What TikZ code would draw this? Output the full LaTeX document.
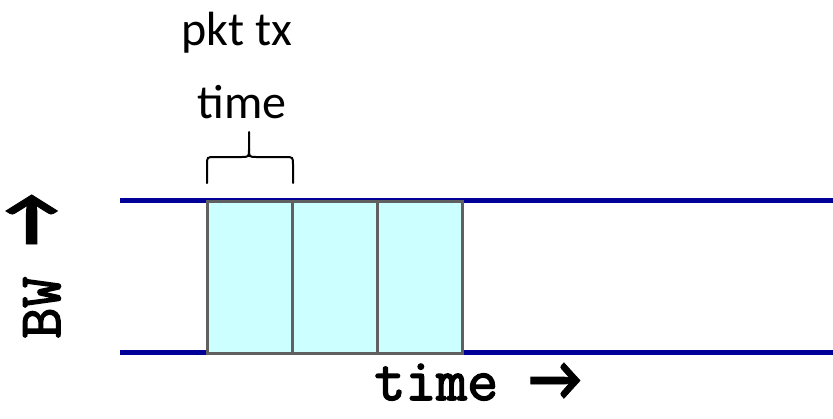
\documentclass[tikz,border=0pt]{standalone}
\usepackage{fontspec}
\setmainfont{Carlito}
\newfontfamily\axisfont[FakeBold=2.5]{Latin Modern Mono}
\newfontfamily\arrowfont[FakeBold=1.2]{Carlito}
\usetikzlibrary{positioning}
\definecolor{bwline}{RGB}{0,0,153}
\definecolor{pktfill}{RGB}{204,255,255}
\definecolor{pktedge}{RGB}{96,96,96}
\newcommand{\axisarrow}[1]{{\arrowfont\bfseries\fontsize{29}{30}\selectfont\scalebox{1}[#1]{→}}}
\tikzset{
	pktbox/.style={draw=pktedge, fill=pktfill, line width=1.5pt, minimum width=42.5pt, minimum height=76pt, inner sep=0pt, outer sep=0pt},
	bwedge/.style={draw=bwline, line width=2.5pt},
	bracepath/.style={draw=black, line width=1pt, line cap=round},
	axislabel/.style={font=\axisfont\fontsize{30}{32}\selectfont, inner sep=0pt},
	toplabel/.style={font=\fontsize{24}{28}\selectfont, inner sep=0pt}
}
\begin{document}
\begin{tikzpicture}[x=0.5pt, y=-0.5pt]
	\useasboundingbox (0,0) rectangle (833,418);

	% channel edges
	\coordinate (topL) at (120,200);
	\coordinate (topR) at (833,200);
	\coordinate (botL) at (120,352);
	\coordinate (botR) at (833,352);
	\draw[bwedge] (topL) -- (topR);
	\draw[bwedge] (botL) -- (botR);

	% packets
	\node[pktbox, anchor=north west] (pkt1) at (207,201) {};
	\node[pktbox, right=0pt of pkt1] (pkt2) {};
	\node[pktbox, right=0pt of pkt2] (pkt3) {};

	% brace over first packet
	\draw[bracepath] (207,183) -- (207,165) .. controls (207,157) .. (215,157) -- (241,157) .. controls (249,157) .. (249,149) -- (249,132);
	\draw[bracepath] (293,183) -- (293,165) .. controls (293,157) .. (285,157) -- (257,157) .. controls (249,157) .. (249,149);

	% labels
	\node[toplabel, anchor=base] (ptx) at (237,45) {pkt tx};
	\node[toplabel, anchor=base] (ptime) at (242,118) {time};
	\node[axislabel, rotate=90, anchor=base] (bw) at (60,266) {BW \axisarrow{1.6}};
	\node[axislabel, anchor=base] (tlabel) at (478,400) {time \axisarrow{1.1}};
\end{tikzpicture}
\end{document}
